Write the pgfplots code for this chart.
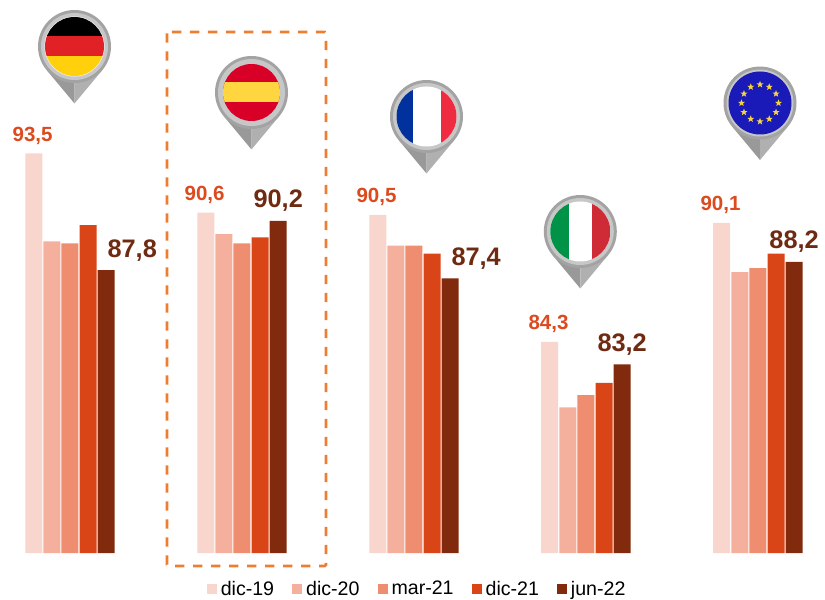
\documentclass[border=0pt]{standalone}
\usepackage{fontspec}
\setmainfont{Liberation Sans}
\usepackage{pgfplots}
\pgfplotsset{compat=1.18}
\usetikzlibrary{shapes.geometric}

\definecolor{cA}{HTML}{F9D6CD}
\definecolor{cB}{HTML}{F5B09D}
\definecolor{cC}{HTML}{EF8D70}
\definecolor{cD}{HTML}{D94517}
\definecolor{cE}{HTML}{822A0E}
\definecolor{lblA}{HTML}{DC4A1E}
\definecolor{lblE}{HTML}{6F2A12}
\definecolor{boxor}{HTML}{ED7D31}
\definecolor{deRed}{HTML}{E02226}
\definecolor{deGold}{HTML}{FFD00B}
\definecolor{esRed}{HTML}{D80027}
\definecolor{esYel}{HTML}{FFD63F}
\definecolor{frBlue}{HTML}{00319C}
\definecolor{frRed}{HTML}{EF2B41}
\definecolor{itGreen}{HTML}{009246}
\definecolor{itRed}{HTML}{CE2B37}
\definecolor{euBlue}{HTML}{1A1AB8}
\definecolor{euStar}{HTML}{F5D442}

\pgfplotsset{
  swatch/.style={legend image code/.code={\fill[##1] (0pt,-3.75pt) rectangle (7.5pt,3.75pt);}},
}

% map pin: centre in pixels, #4 is the flag, drawn clipped to the disc
\newcommand{\pin}[4][30]{%
  \begin{scope}[shift={(#2,#3)}]
    \fill[black!40] (0,57) -- (-28,23.4) -- (0,20) -- cycle;
    \fill[black!31] (0,57) -- (28,23.4) -- (0,20) -- cycle;
    \fill[black!36] (0,0) circle (36.5);
    \fill[black!22] (0,0) circle (33.5);
    \begin{scope}
      \clip (0,0) circle (#1);
      #4
    \end{scope}
  \end{scope}}

\begin{document}
\begin{tikzpicture}
\useasboundingbox (0,-35.25pt) rectangle (618.75pt,414.75pt);
\begin{axis}[
    scale only axis,
    width=618.75pt,
    height=414.75pt,
    hide axis,
    clip=false,
    xmin=-0.407, xmax=4.39,
    ymin=74, ymax=100.976,
    ybar=0.83pt,
    bar width=12.75pt,
    /pgf/number format/.cd,fixed,fixed zerofill,precision=1,use comma,assume math mode=true,
    /pgfplots/.cd,
    legend columns=5,
    legend style={at={(0.506,-0.0651)},anchor=center,draw=none,fill=none,
      font=\fontsize{14.7pt}{16pt}\selectfont,inner sep=0pt,
      /tikz/every odd column/.style={column sep=1pt},
      /tikz/every even column/.style={column sep=11.5pt}},
]
% Germany, Spain, France, Italy, EU
\addplot[fill=cA,draw=none,swatch,
  nodes near coords,
  every node near coord/.append style={anchor=base,xshift=-0.9pt,yshift=9pt,text=lblA,
    font=\fontsize{15.4pt}{18pt}\selectfont\bfseries}]
  coordinates {(0,93.5) (1,90.6) (2,90.5) (3,84.3) (4,90.1)};
\addlegendentry{dic-19}
\addplot[fill=cB,draw=none,swatch]
  coordinates {(0,89.2) (1,89.55) (2,89.0) (3,81.1) (4,87.7)};
\addlegendentry{dic-20}
\addplot[fill=cC,draw=none,swatch]
  coordinates {(0,89.1) (1,89.1) (2,89.0) (3,81.7) (4,87.9)};
\addlegendentry{mar-21}
\addplot[fill=cD,draw=none,swatch]
  coordinates {(0,90.0) (1,89.4) (2,88.6) (3,82.3) (4,88.6)};
\addlegendentry{dic-21}
\addplot[fill=cE,draw=none,swatch,
  nodes near coords,
  every node near coord/.append style={anchor=base,yshift=9.75pt,text=lblE,
    font=\fontsize{19pt}{22pt}\selectfont\bfseries},
  coordinate style/.condition={\coordindex==0 || \coordindex==2}{xshift=19.5pt}]
  coordinates {(0,87.8) (1,90.2) (2,87.4) (3,83.2) (4,88.2)};
\addlegendentry{jun-22}
\end{axis}

\begin{scope}[x=0.75pt,y=-0.75pt,yshift=414.75pt]
  % highlight box round Spain
  \draw[boxor,line width=2pt,dash pattern=on 7pt off 6.5pt,rounded corners=1pt]
    (167,32) rectangle (326,566);
  \pin{74.5}{46.5}{%
    \fill[white] (-31,-31) rectangle (31,31);
    \begin{scope}\clip (0,0) circle (29.5);
    \fill[black] (-31,-31) rectangle (31,-10.3);
    \fill[deRed] (-31,-10.3) rectangle (31,10);
    \fill[deGold] (-31,10) rectangle (31,31);
    \end{scope}}
  \pin[28.5]{251.5}{92.5}{%
    \fill[esRed] (-31,-31) rectangle (31,31);
    \fill[esYel] (-31,-10.5) rectangle (31,9.5);}
  \pin{426.5}{116.5}{%
    \fill[white] (-31,-31) rectangle (31,31);
    \fill[frBlue] (-31,-31) rectangle (-14,31);
    \fill[frRed] (14.5,-31) rectangle (31,31);}
  \pin{580.3}{231.5}{%
    \fill[white] (-31,-31) rectangle (31,31);
    \fill[itGreen] (-31,-31) rectangle (-11,31);
    \fill[itRed] (11.5,-31) rectangle (31,31);}
  \pin[31.5]{760}{103}{%
    \fill[euBlue] (-33,-33) rectangle (33,33);
    \foreach \a in {0,30,...,330}
      \node[star,star points=5,star point ratio=2.4,fill=euStar,inner sep=0pt,
            minimum size=5.5pt] at (\a:18.5) {};}
\end{scope}
\end{tikzpicture}
\end{document}
